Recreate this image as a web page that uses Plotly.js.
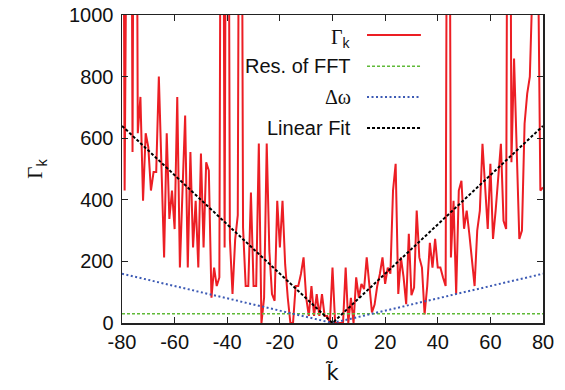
<!DOCTYPE html>
<html>
<head>
<meta charset="utf-8">
<script src="https://cdn.plot.ly/plotly-3.0.1.min.js"></script>
<style>html,body{margin:0;padding:0;background:#fff;}</style>
</head>
<body>
<div id="chart" style="width:565px;height:390px;"></div>
<script>
// wave number k~
const kValues = [-80,-79,-78,-77,-76,-75,-74,-73,-72,-71,-70,-69,-68,-67,-66,-65,-64,-63,-62,-61,
-60,-59,-58,-57,-56,-55,-54,-53,-52,-51,-50,-49,-48,-47,-46,-45,-44,-43,-42,-41,
-40,-39,-38,-37,-36,-35,-34,-33,-32,-31,-30,-29,-28,-27,-26,-25,-24,-23,-22,-21,
-20,-19,-18,-17,-16,-15,-14,-13,-12,-11,-10,-9,-8,-7,-6,-5,-4,-3,-2,-1,
0,1,2,3,4,5,6,7,8,9,10,11,12,13,14,15,16,17,18,19,
20,21,22,23,24,25,26,27,28,29,30,31,32,33,34,35,36,37,38,39,
40,41,42,43,44,45,46,47,48,49,50,51,52,53,54,55,56,57,58,59,
60,61,62,63,64,65,66,67,68,69,70,71,72,73,74,75,76,77,78,79,80];
// Gamma_k (values above 1000 leave the plot frame)
const gammaK = [3000,430,3000,3000,555,3000,616,734,397,616,571,430,490,490,800,500,213,616,338,430,
305,734,180,430,674,180,555,245,397,180,550,245,522,495,82,180,120,148,3000,245,
3000,273,94,270,350,3000,310,120,120,424,120,120,583,0,82,583,234,94,72,397,
245,397,191,82,0,0,120,120,159,213,82,23,120,23,94,23,94,23,23,0,
180,0,0,0,0,180,0,82,0,148,82,127,110,213,127,34,60,120,159,213,
127,180,160,430,517,94,213,150,61,290,90,115,365,213,180,28,120,260,180,273,
180,180,148,120,3000,213,397,94,430,462,306,365,289,208,120,300,365,582,430,305,
517,273,365,460,582,332,305,3000,522,859,600,273,300,647,745,800,1100,1500,1300,430,440];
// resolution of FFT
const fftK = [-80, 80];
const fftRes = [30, 30];
// delta omega
const dwK = [-80, 0, 80];
const dwVal = [160, 0, 160];
// linear fit
const fitK = [-80, 0, 80];
const fitVal = [640, 0, 640];

const xTicks = [-80,-60,-40,-20,0,20,40,60,80];
const yTicks = [0,200,400,600,800,1000];

const SERIF = 'Liberation Serif, Times New Roman, serif';
const FONT = 'Liberation Sans, Arial, sans-serif';
const legendLabels = ['<span style="font-family:' + SERIF + '">Γ</span><sub>k</sub>', 'Res. of FFT',
  '<span style="font-family:' + SERIF + '">Δω</span>', 'Linear Fit'];

const cRed = 'rgb(236,30,36)', cGreen = 'rgb(95,185,55)', cBlue = 'rgb(60,90,180)', cBlack = '#000';

const traces = [
  {x: kValues, y: gammaK, type: 'scatter', mode: 'lines', name: 'Γk',
   line: {color: cRed, width: 2}, showlegend: false},
  {x: fftK, y: fftRes, type: 'scatter', mode: 'lines', name: 'Res. of FFT',
   line: {color: cGreen, width: 1.5, dash: '3px,2px'}, showlegend: false},
  {x: dwK, y: dwVal, type: 'scatter', mode: 'lines', name: 'Δω',
   line: {color: cBlue, width: 2, dash: '2px,2.5px'}, showlegend: false},
  {x: fitK, y: fitVal, type: 'scatter', mode: 'lines', name: 'Linear Fit',
   line: {color: cBlack, width: 2, dash: '3px,2px'}, showlegend: false}
];

// gnuplot-style key: text on the left, sample on the right
const rowY = [0.935, 0.834, 0.734, 0.633];
const styles = [
  {color: cRed, width: 2, dash: 'solid'},
  {color: cGreen, width: 1.5, dash: '3px,2px'},
  {color: cBlue, width: 2, dash: '2px,2.5px'},
  {color: cBlack, width: 2, dash: '3px,2px'}
];
const annotations = legendLabels.map((t, i) => ({
  xref: 'paper', yref: 'paper', x: 0.549, y: rowY[i] + (i === 0 ? -0.012 : 0),
  xanchor: 'right', yanchor: 'middle', showarrow: false, text: t,
  font: {family: FONT, size: 20, color: '#111'}
}));
const shapes = styles.map((s, i) => ({
  type: 'line', xref: 'paper', yref: 'paper', x0: 0.582, x1: 0.710, y0: rowY[i], y1: rowY[i],
  line: s
}));

const layout = {
  width: 565, height: 390,
  margin: {l: 122, r: 22, t: 15, b: 67},
  paper_bgcolor: '#fff', plot_bgcolor: '#fff',
  font: {family: FONT, size: 20, color: '#111'},
  xaxis: {
    range: [-80, 80], tickvals: xTicks, ticktext: xTicks.map(String),
    ticks: 'inside', ticklen: 6, tickwidth: 1, tickcolor: '#222',
    mirror: 'allticks', showline: true, linecolor: '#222', linewidth: 1.5,
    showgrid: false, zeroline: false,
    tickfont: {family: FONT, size: 20, color: '#111'},
    title: {text: 'k̃', font: {family: 'DejaVu Sans, ' + FONT, size: 21, color: '#111'}, standoff: 14}
  },
  yaxis: {
    range: [0, 1000], tickvals: yTicks, ticktext: yTicks.map(String),
    ticks: 'inside', ticklen: 6, tickwidth: 1, tickcolor: '#222',
    mirror: 'allticks', showline: true, linecolor: '#222', linewidth: 1.5,
    showgrid: false, zeroline: false, ticklabelstandoff: 3,
    tickfont: {family: FONT, size: 20, color: '#111'},
    title: {text: '<span style="font-family:' + SERIF + '">Γ</span><sub>k</sub>', font: {family: FONT, size: 21, color: '#111'}, standoff: 20}
  },
  annotations: annotations,
  shapes: shapes,
  showlegend: false
};

Plotly.newPlot('chart', traces, layout, {staticPlot: true, displayModeBar: false});
</script>
</body>
</html>
